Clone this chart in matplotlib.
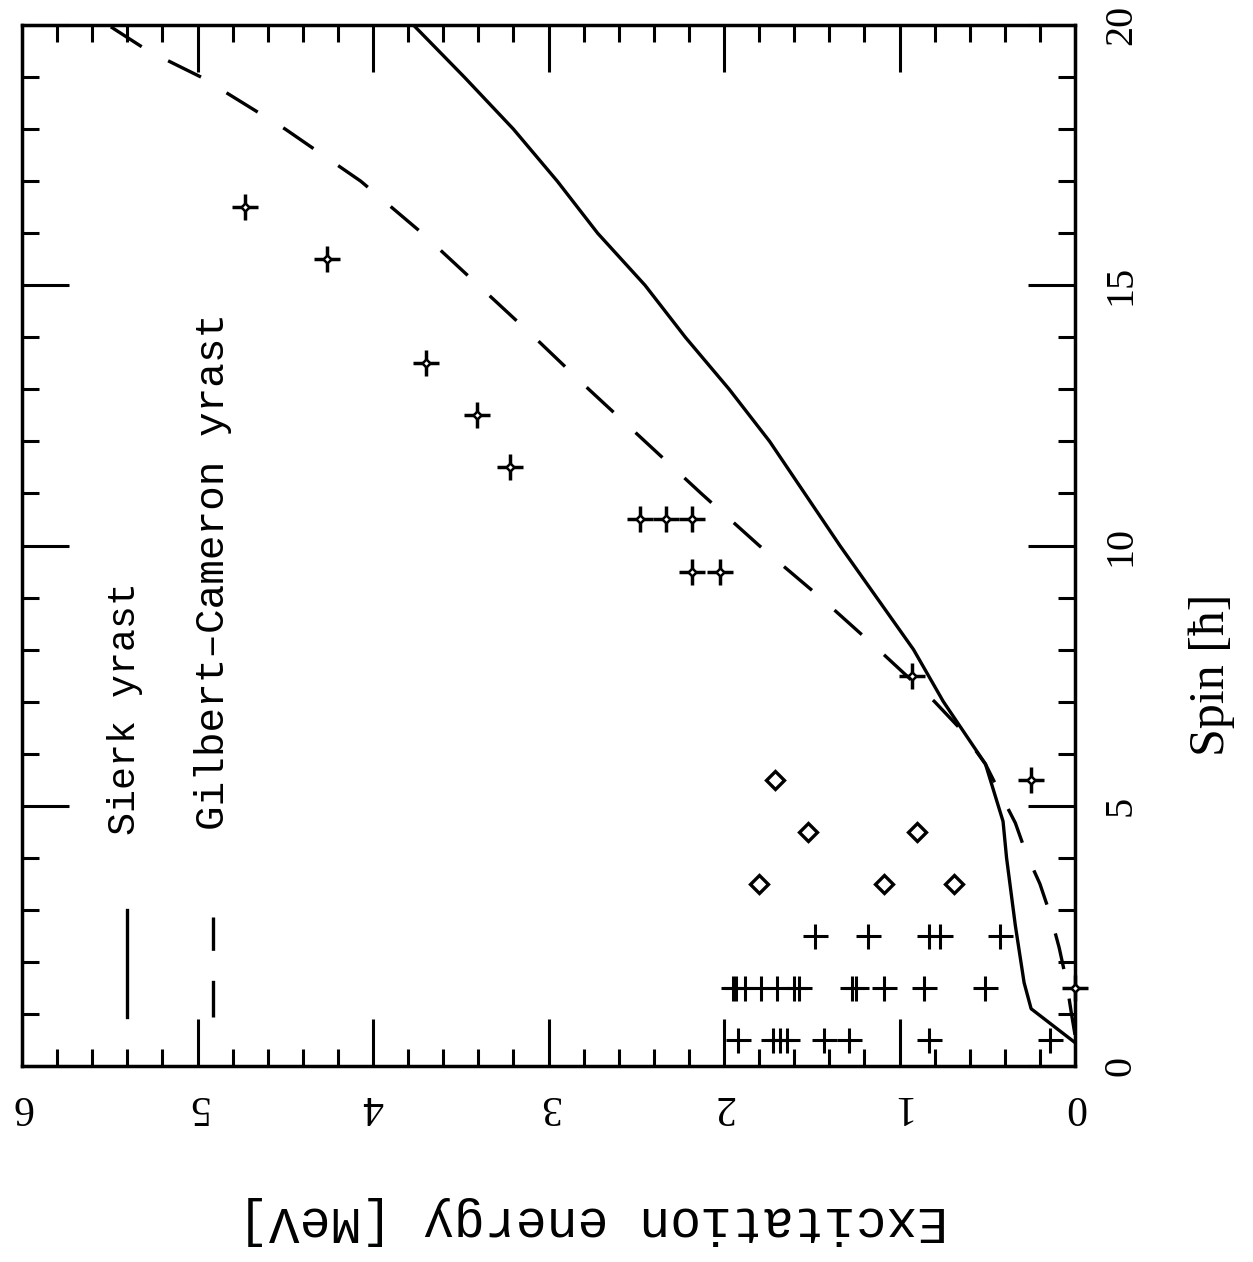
import matplotlib.pyplot as plt
from matplotlib.ticker import MultipleLocator

# yrast lines (spin in hbar, excitation energy in MeV)
sierk_spin = [0.45, 1.1, 1.6, 2.7, 4.0, 4.7, 5.8, 6.2, 7, 8, 9, 10, 11, 12, 13, 14, 15, 16, 17, 18, 19, 20]
sierk_energy = [0.0, 0.25, 0.29, 0.34, 0.39, 0.41, 0.51, 0.59, 0.75, 0.92, 1.13, 1.34, 1.54, 1.74, 1.97,
                2.22, 2.45, 2.72, 2.95, 3.20, 3.48, 3.77]

gc_spin = [0.6, 1.0, 1.65, 2.27, 2.9, 3.5, 4.1, 4.67, 5.26, 5.8, 6.5, 7, 8, 9, 10, 11, 12, 13, 14, 15,
           16, 17, 18, 19, 19.5, 20]
gc_energy = [0.0, 0.02, 0.05, 0.09, 0.14, 0.20, 0.28, 0.34, 0.43, 0.51, 0.66, 0.80, 1.12, 1.45, 1.80,
             2.13, 2.45, 2.77, 3.08, 3.40, 3.72, 4.07, 4.50, 4.98, 5.28, 5.51]

# measured levels
plus_spin = [0.5] * 8 + [1.5] * 12 + [2.5] * 5
plus_energy = [1.92, 1.72, 1.68, 1.64, 1.43, 1.29, 0.83, 0.14,
               1.95, 1.93, 1.88, 1.79, 1.70, 1.60, 1.57, 1.27, 1.25, 1.09, 0.86, 0.51,
               1.48, 1.18, 0.83, 0.77, 0.43]

diamond_spin = [3.5, 3.5, 3.5, 4.5, 4.5, 5.5]
diamond_energy = [1.80, 1.09, 0.69, 1.52, 0.90, 1.71]

star_spin = [1.5, 5.5, 7.5, 9.5, 9.5, 10.5, 10.5, 10.5, 11.5, 12.5, 13.5, 15.5, 16.5]
star_energy = [0.0, 0.25, 0.93, 2.02, 2.18, 2.18, 2.33, 2.48, 3.22, 3.41, 3.70, 4.26, 4.73]

energy_ticks = [0, 1, 2, 3, 4, 5, 6]
spin_ticks = [0, 5, 10, 15, 20]

W, H = 1253, 1262
fig = plt.figure(figsize=(W / 100, H / 100), dpi=100)
ax = fig.add_axes([22 / W, 1 - 1066 / H, (1075 - 22) / W, (1066 - 25) / H])

ax.plot(sierk_energy, sierk_spin, color="black", lw=2.4)
ax.plot(gc_energy, gc_spin, color="black", lw=2.4, dashes=(11, 9))

ax.plot(plus_energy, plus_spin, ls="none", marker="+", ms=18, mew=2.2, color="black")
ax.plot(diamond_energy, diamond_spin, ls="none", marker="D", ms=9.5, mfc="white", mec="black", mew=2.4)
ax.plot(star_energy, star_spin, ls="none", marker="+", ms=19, mew=2.5, color="black", clip_on=False)
ax.plot(star_energy, star_spin, ls="none", marker="D", ms=4.5, mfc="white", mec="black", mew=1.8,
        clip_on=False, zorder=3)

ax.set_xlim(6, 0)
ax.set_ylim(0, 20)
ax.set_xticks(energy_ticks)
ax.set_xticklabels([str(t) for t in energy_ticks], rotation=180, family="Liberation Serif", fontsize=30)
ax.set_yticks(spin_ticks)
ax.set_yticklabels([str(t) for t in spin_ticks], rotation=90, va="center", family="Liberation Serif",
                   fontsize=29)
ax.xaxis.set_minor_locator(MultipleLocator(0.2))
ax.yaxis.set_minor_locator(MultipleLocator(1))
ax.tick_params(which="both", direction="in", top=True, bottom=True, left=True, right=True,
               width=2.2, color="black")
ax.tick_params(which="major", length=34)
ax.tick_params(which="minor", length=12)
ax.tick_params(axis="y", labelleft=False, labelright=True, pad=20)
ax.tick_params(axis="x", pad=15)
for sp in ax.spines.values():
    sp.set_linewidth(2.5)

# key drawn inside the frame
ax.plot([0.0997, 0.0997], [0.047, 0.15], transform=ax.transAxes, color="black", lw=2.4)
ax.plot([0.181, 0.181], [0.047, 0.143], transform=ax.transAxes, color="black", lw=2.4, dashes=(11, 9))
ax.text(0.0978, 0.222, "Sierk yrast", rotation=90, ha="center", va="bottom", transform=ax.transAxes,
        family="Liberation Mono", fontsize=27.5)
ax.text(0.181, 0.227, "Gilbert\u2013Cameron yrast", rotation=90, ha="center", va="bottom",
        transform=ax.transAxes, family="Liberation Mono", fontsize=29.5)

fig.text(0.473, 0.033, "Excitation energy [MeV]", rotation=180, ha="center", va="center",
         family="Liberation Mono", fontsize=37)
fig.text(0.967, 0.465, "Spin [\u0127]", rotation=90, ha="center", va="center",
         family="Liberation Serif", fontsize=36)

fig.savefig("out.png", dpi=100)
